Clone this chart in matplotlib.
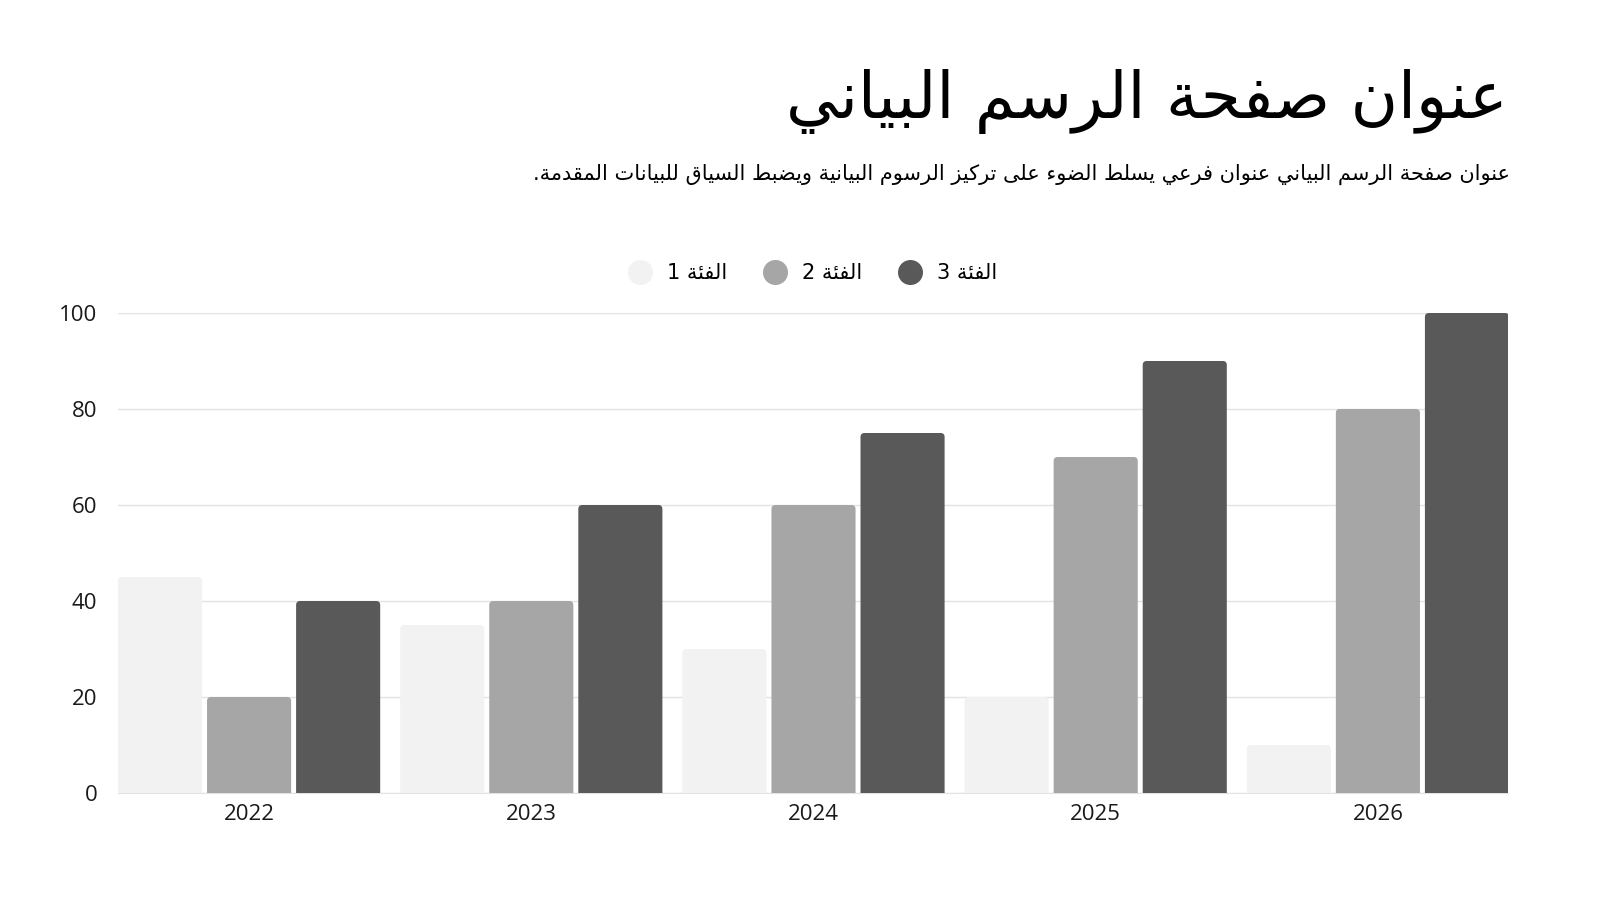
import re
import numpy as np
import matplotlib
matplotlib.use('Agg')
import matplotlib.pyplot as plt
from matplotlib.patches import FancyBboxPatch
from matplotlib.lines import Line2D

years = ['2022', '2023', '2024', '2025', '2026']
cat1 = [45, 35, 30, 20, 10]
cat2 = [20, 40, 60, 70, 80]
cat3 = [40, 60, 75, 90, 100]
series_names = ['الفئة 1', 'الفئة 2', 'الفئة 3']
colors = ['#f2f2f2', '#a6a6a6', '#595959']
yticks = [0, 20, 40, 60, 80, 100]

title = 'عنوان صفحة الرسم البياني'
subtitle = 'عنوان صفحة الرسم البياني عنوان فرعي يسلط الضوء على تركيز الرسوم البيانية ويضبط السياق للبيانات المقدمة.'

# --- tiny arabic shaper (matplotlib has no shaping / bidi) ---
# letter -> (first presentation form, number of forms)
FORMS = {
    'ء': (0xFE80, 1), 'آ': (0xFE81, 2), 'أ': (0xFE83, 2), 'ؤ': (0xFE85, 2),
    'إ': (0xFE87, 2), 'ئ': (0xFE89, 4), 'ا': (0xFE8D, 2), 'ب': (0xFE8F, 4),
    'ة': (0xFE93, 2), 'ت': (0xFE95, 4), 'ث': (0xFE99, 4), 'ج': (0xFE9D, 4),
    'ح': (0xFEA1, 4), 'خ': (0xFEA5, 4), 'د': (0xFEA9, 2), 'ذ': (0xFEAB, 2),
    'ر': (0xFEAD, 2), 'ز': (0xFEAF, 2), 'س': (0xFEB1, 4), 'ش': (0xFEB5, 4),
    'ص': (0xFEB9, 4), 'ض': (0xFEBD, 4), 'ط': (0xFEC1, 4), 'ظ': (0xFEC5, 4),
    'ع': (0xFEC9, 4), 'غ': (0xFECD, 4), 'ف': (0xFED1, 4), 'ق': (0xFED5, 4),
    'ك': (0xFED9, 4), 'ل': (0xFEDD, 4), 'م': (0xFEE1, 4), 'ن': (0xFEE5, 4),
    'ه': (0xFEE9, 4), 'و': (0xFEED, 2), 'ى': (0xFEEF, 2), 'ي': (0xFEF1, 4),
}
LAM_ALEF = {'ا': 0xFEFB, 'أ': 0xFEF7, 'إ': 0xFEF9, 'آ': 0xFEF5}


def shape(text):
    # lam-alef ligatures first
    chars = []
    i = 0
    while i < len(text):
        c = text[i]
        if c == 'ل' and i + 1 < len(text) and text[i + 1] in LAM_ALEF:
            chars.append(('LA', text[i + 1]))
            i += 2
        else:
            chars.append((c, None))
            i += 1

    def joins_left(k):  # char k can connect to the next char
        c = chars[k][0]
        return c in FORMS and FORMS[c][1] == 4

    def is_ar(k):
        c = chars[k][0]
        return c == 'LA' or (c in FORMS and FORMS[c][1] > 1)

    out = []
    for k, (c, extra) in enumerate(chars):
        prev_join = k > 0 and joins_left(k - 1)
        next_ar = k + 1 < len(chars) and is_ar(k + 1)
        if c == 'LA':
            base = LAM_ALEF[extra]
            out.append(chr(base + 1 if prev_join else base))
            continue
        if c not in FORMS:
            out.append(c)
            continue
        base, n = FORMS[c]
        if n == 1:
            out.append(chr(base))
        elif n == 2:
            out.append(chr(base + 1 if prev_join else base))
        else:
            if prev_join and next_ar:
                out.append(chr(base + 3))
            elif prev_join:
                out.append(chr(base + 1))
            elif next_ar:
                out.append(chr(base + 2))
            else:
                out.append(chr(base))
    s = ''.join(out)[::-1]
    # keep digit runs left-to-right
    return re.sub(r'[0-9]+', lambda m: m.group(0)[::-1], s)


plt.rcParams['font.family'] = ['Open Sans', 'DejaVu Sans']

fig = plt.figure(figsize=(16, 9), dpi=100)
fig.patch.set_facecolor('white')
ax = fig.add_axes([118 / 1600, 1 - 793 / 900, (1508 - 118) / 1600, (793 - 313) / 900])

x = np.arange(len(years))
w = 0.298
step = 0.3156
series = [cat1, cat2, cat3]
rad_x = 0.0142
aspect = (4 / 4.8) / rad_x
for j, vals in enumerate(series):
    bars = ax.bar(x + (j - 1) * step, vals, width=w, color=colors[j], zorder=3)
    for b in bars:
        bx, bw, bh = b.get_x(), b.get_width(), b.get_height()
        b.set_visible(False)
        p = FancyBboxPatch((bx, -3), bw, bh + 3,
                           boxstyle='round,pad=0,rounding_size=%f' % rad_x,
                           mutation_aspect=aspect, facecolor=colors[j],
                           edgecolor='none', zorder=3)
        ax.add_patch(p)

ax.set_xlim(-0.4645, 4.461)
ax.set_ylim(0, 100)
ax.set_yticks(yticks)
ax.set_xticks(x)
ax.set_xticklabels(years)
ax.tick_params(axis='both', length=0, labelsize=16, colors='#1a1a1a')
ax.tick_params(axis='y', pad=15)
ax.tick_params(axis='x', pad=8)
ax.grid(axis='y', color='#e3e3e3', linewidth=1, zorder=0)
for s in ['top', 'right', 'left']:
    ax.spines[s].set_visible(False)
ax.spines['bottom'].set_color('#e3e3e3')

handles = [Line2D([], [], marker='o', linestyle='none', markersize=17,
                  markerfacecolor=c, markeredgecolor=c) for c in colors]
fig.legend(handles, [shape(n) for n in series_names], loc='center',
           bbox_to_anchor=(808 / 1600, 1 - 273 / 900), ncol=3, frameon=False,
           handletextpad=0.3, columnspacing=1.3,
           prop={'family': ['DejaVu Sans'], 'size': 15})

fig.text(1508 / 1600, 1 - 101 / 900, shape(title), ha='right', va='center',
         fontsize=46.5, family='DejaVu Sans', color='black')
fig.text(1510 / 1600, 1 - 174 / 900, shape(subtitle), ha='right', va='center',
         fontsize=15, family='DejaVu Sans', color='black')

fig.savefig('out.png', dpi=100, facecolor='white')
